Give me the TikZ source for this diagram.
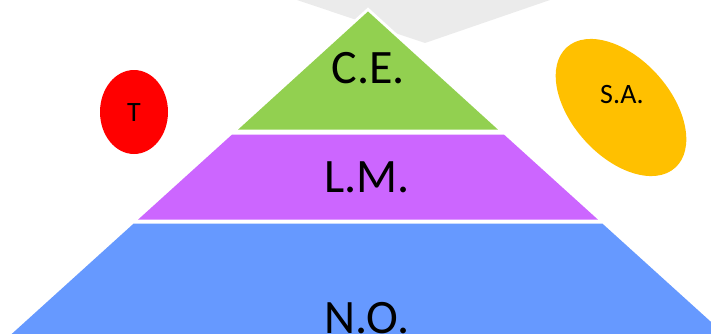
\documentclass[tikz,border=0pt]{standalone}
\usepackage{fontspec}
\setmainfont{Carlito}
\usetikzlibrary{shapes.geometric}
\definecolor{cegreen}{HTML}{92D050}
\definecolor{lmpurple}{HTML}{CC66FF}
\definecolor{noblue}{HTML}{6699FF}
\definecolor{tred}{HTML}{FF0000}
\definecolor{saorange}{HTML}{FFC000}
\definecolor{shadowgray}{RGB}{235,235,235}
\tikzset{
  bigtext/.style={font=\fontsize{48}{48}\selectfont, text=black, inner sep=0pt, anchor=base},
  smalltext/.style={font=\fontsize{28}{28}\selectfont, text=black, inner sep=0pt, anchor=base},
}
\begin{document}
\begin{tikzpicture}[x=1pt,y=1pt]
\useasboundingbox (0,0) rectangle (711,333);
\clip (0,0) rectangle (711,333);
% gray shadow at top
\fill[shadowgray] (297,336) -- (297,333) -- (425,290) -- (550,333) -- (550,336) -- cycle;
% white halo around the apex
\draw[white, line width=6pt, line join=miter] (368,321.5) -- (238.2,203.5) -- (497.8,203.5) -- cycle;
% layers
\fill[cegreen] (368,321.5) -- (238.2,203.5) -- (497.8,203.5) -- cycle;
\fill[lmpurple] (232.1,198.5) -- (503.9,198.5) -- (597.8,113.5) -- (138.2,113.5) -- cycle;
\fill[noblue] (133.7,109.5) -- (602.3,109.5) -- (736.5,-12) -- (-0.5,-12) -- cycle;
% labels
\node[bigtext] (ce) at (368.5,250) {C.E.};
\node[bigtext] (lm) at (367,141) {L.M.};
\node[bigtext] (no) at (367,0) {N.O.};
% red ellipse
\node[ellipse, fill=tred, minimum width=68pt, minimum height=84pt, inner sep=0pt] (t) at (134,221) {};
\node[smalltext] (tlabel) at (134,212) {T};
% orange tilted ellipse
\fill[saorange] (621,225.5) ellipse [x radius=81, y radius=49, rotate=-48];
\node[smalltext] (sa) at (622,230) {S.A.};
\end{tikzpicture}
\end{document}
